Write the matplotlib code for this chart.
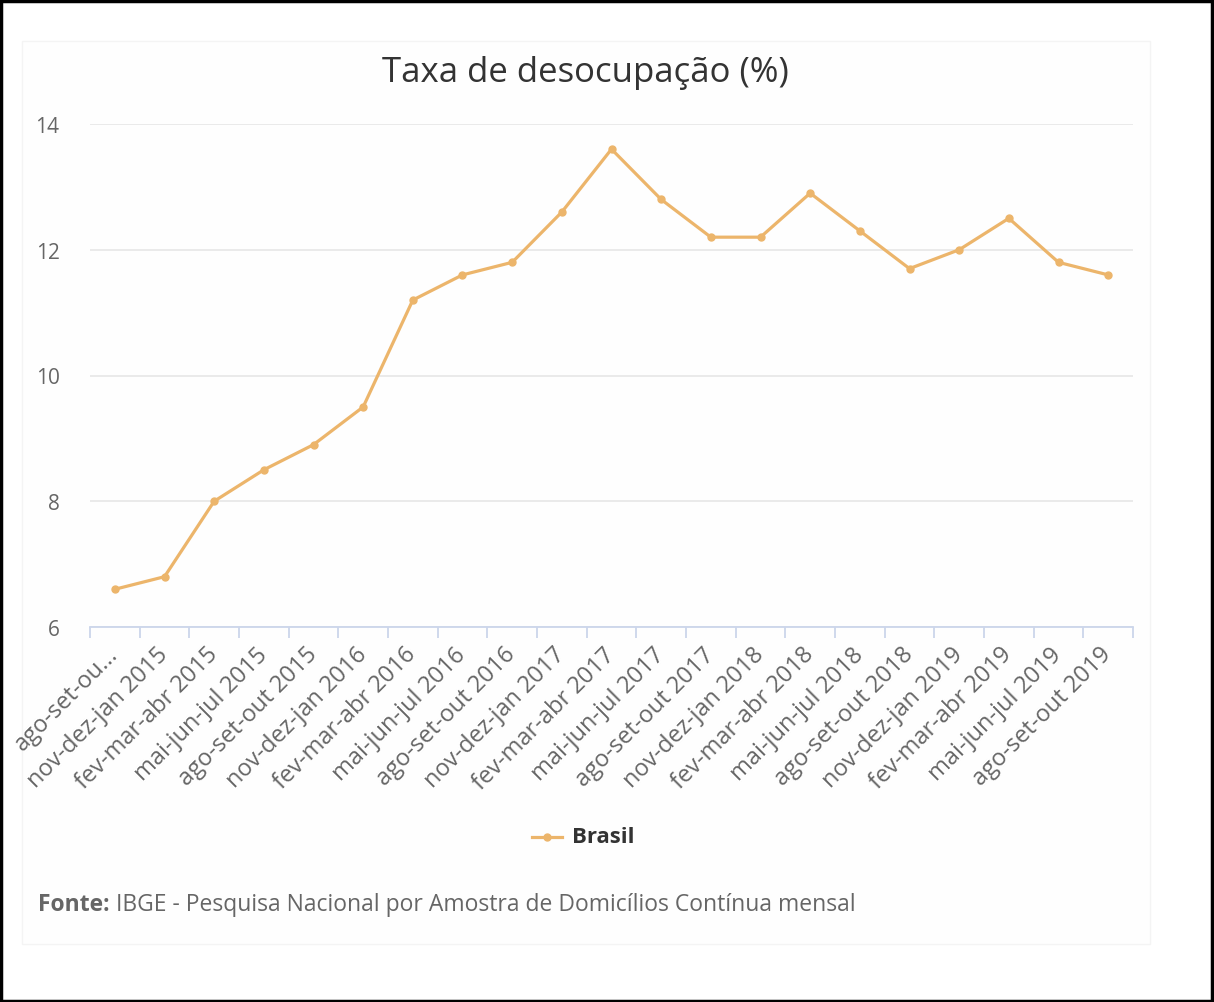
import matplotlib
matplotlib.use("Agg")
import matplotlib.pyplot as plt
from matplotlib.patches import Rectangle
from matplotlib.lines import Line2D

plt.rcParams['font.family'] = ['Open Sans', 'DejaVu Sans']

# data
periods = ["ago-set-ou...", "nov-dez-jan 2015", "fev-mar-abr 2015", "mai-jun-jul 2015",
           "ago-set-out 2015", "nov-dez-jan 2016", "fev-mar-abr 2016", "mai-jun-jul 2016",
           "ago-set-out 2016", "nov-dez-jan 2017", "fev-mar-abr 2017", "mai-jun-jul 2017",
           "ago-set-out 2017", "nov-dez-jan 2018", "fev-mar-abr 2018", "mai-jun-jul 2018",
           "ago-set-out 2018", "nov-dez-jan 2019", "fev-mar-abr 2019", "mai-jun-jul 2019",
           "ago-set-out 2019"]
brasil = [6.6, 6.8, 8.0, 8.5, 8.9, 9.5, 11.2, 11.6, 11.8, 12.6, 13.6, 12.8,
          12.2, 12.2, 12.9, 12.3, 11.7, 12.0, 12.5, 11.8, 11.6]
yticks = [6, 8, 10, 12, 14]

line_color = "#ecb56b"
W, H = 1214, 1003
fig = plt.figure(figsize=(W / 100, H / 100), dpi=100)

# outer black frame and light panel (behind the axes)
fig.patches.append(Rectangle((0.001, 0.001), 0.997, 0.997, transform=fig.transFigure,
                             fill=False, edgecolor="black", linewidth=2.5, zorder=-2))
fig.patches.append(Rectangle((22 / W, 1 - 945 / H), (1150 - 22) / W, (945 - 42) / H,
                             transform=fig.transFigure, facecolor="#fefefe",
                             edgecolor="#f4f4f4", linewidth=1, zorder=-1))

ax = fig.add_axes([90 / W, 1 - 628 / H, (1133 - 90) / W, (628 - 125) / H])
ax.set_facecolor("none")
x = list(range(len(periods)))
ax.plot(x, brasil, color=line_color, linewidth=2.3, marker="o", markersize=5,
        zorder=3, clip_on=False)

ax.set_xlim(-0.5, len(periods) - 0.5)
ax.set_ylim(6, 14)
ax.set_yticks(yticks)
ax.set_yticklabels([str(v) for v in yticks])
ax.grid(axis="y", color="#e6e6e6", linewidth=1.2)
ax.set_axisbelow(True)

for s in ["top", "right", "left"]:
    ax.spines[s].set_visible(False)
ax.spines["bottom"].set_color("#ccd6eb")
ax.spines["bottom"].set_linewidth(1.3)

ax.tick_params(axis="y", length=0, pad=22, labelsize=15, labelcolor="#666666")
ax.set_xticks(x)
ax.set_xticklabels(periods, rotation=45, ha="right", va="center", rotation_mode="anchor")
ax.tick_params(axis="x", which="major", length=0, pad=17, labelsize=17,
               labelcolor="#666666")
ax.set_xticks([i - 0.5 for i in range(len(periods) + 1)], minor=True)
ax.tick_params(axis="x", which="minor", length=8, width=1.3, color="#ccd6eb")

fig.text(585 / W, 1 - 73 / H, "Taxa de desocupação (%)", ha="center", va="center",
         fontsize=25, color="#333333")

# legend
leg_y = 1 - 838 / H
fig.add_artist(Line2D([532 / W, 562 / W], [leg_y, leg_y], transform=fig.transFigure,
                      color=line_color, linewidth=2.3))
fig.add_artist(Line2D([547 / W], [leg_y], transform=fig.transFigure,
                      color=line_color, marker="o", markersize=5, linestyle="none"))
fig.text(572 / W, leg_y, "Brasil", ha="left", va="center", fontsize=16,
         fontweight="bold", color="#333333")

# source
t = fig.text(38 / W, 1 - 905 / H, "Fonte:", ha="left", va="center", fontsize=16.5,
             fontweight="bold", color="#666666")
fig.canvas.draw()
bb = t.get_window_extent()
fig.text((bb.x1 + 6) / W, 1 - 905 / H,
         "IBGE - Pesquisa Nacional por Amostra de Domicílios Contínua mensal",
         ha="left", va="center", fontsize=16.5, color="#666666")

fig.savefig("out.png", dpi=100)
